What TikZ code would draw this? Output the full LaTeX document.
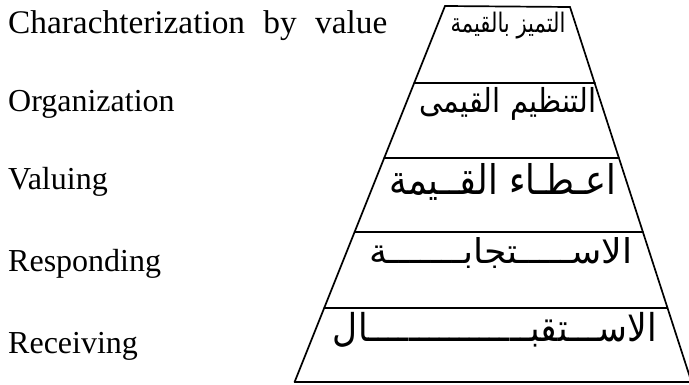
\documentclass[tikz,border=0pt]{standalone}
\usepackage{fontspec}
\setmainfont{Liberation Serif}
\newfontfamily\arabicfont[Script=Arabic]{DejaVu Sans}
\TeXXeTstate=1
\begin{document}
\begin{tikzpicture}[x=1pt,y=-1pt,
  edge/.style={line width=1.7pt, line cap=round},
  engl/.style={anchor=base west, inner sep=0pt, font=\fontsize{32}{38}\selectfont},
  arab/.style={anchor=center, inner sep=0pt, font=\arabicfont\fontsize{21}{26}\selectfont}]
\useasboundingbox (0,0) rectangle (689,385);
% corners and level points
\coordinate (tl) at (445,6);
\coordinate (tr) at (570,7);
\coordinate (l1) at (414.2,83);  \coordinate (r1) at (594.9,83);
\coordinate (l2) at (384.2,158); \coordinate (r2) at (618.9,158);
\coordinate (l3) at (354.6,232); \coordinate (r3) at (642.9,232);
\coordinate (l4) at (324.2,308); \coordinate (r4) at (667.5,308);
\coordinate (bl) at (294.6,382); \coordinate (br) at (691.5,382);
\draw[edge] (bl) -- (tl) -- (tr) -- (br);
\draw[edge] (l1) -- (r1);
\draw[edge] (l2) -- (r2);
\draw[edge] (l3) -- (r3);
\draw[edge] (l4) -- (r4);
\draw[edge] (bl) -- (br);
% English labels
\node[engl] (e1) at (8,34) {\fontsize{33}{38}\selectfont\scalebox{1.01}[1]{Charachterization\hspace{0.3em} by\hspace{0.3em} value}};
\node[engl] (e2) at (8,112) {Organization};
\node[engl] (e3) at (8,190) {Valuing};
\node[engl] (e4) at (8,272) {Responding};
\node[engl] (e5) at (8,353) {Receiving};
% Arabic labels
\node[arab] (a1) at (508,26) {\resizebox*{115pt}{27pt}{\beginR التميز بالقيمة\endR}};
\node[arab] (a2) at (508,104) {\resizebox*{177pt}{33pt}{\beginR التنظيم القيمى\endR}};
\node[arab] (a3) at (503,182) {\resizebox*{227pt}{37pt}{\beginR اعـطـاء القــيمة\endR}};
\node[arab] (a4) at (501,253) {\resizebox*{263pt}{31pt}{\beginR الاســـــتجابـــــــة\endR}};
\node[arab] (a5) at (495,330) {\resizebox*{324pt}{35pt}{\beginR الاســـتقبــــــــــــــــال\endR}};
\end{tikzpicture}
\end{document}
